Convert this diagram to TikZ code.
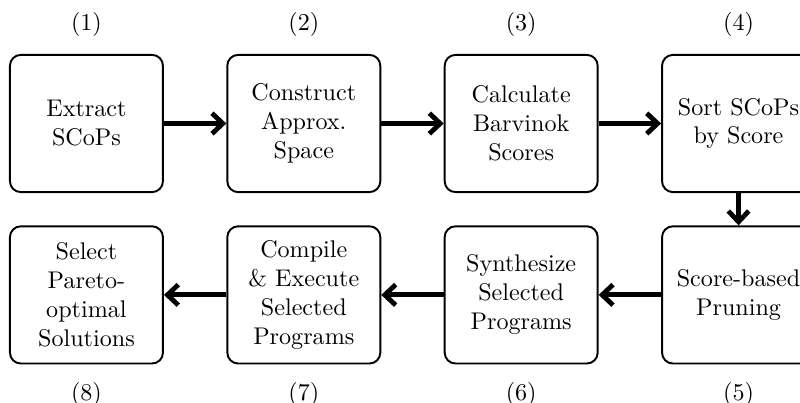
\documentclass[tikz,border=0pt]{standalone}
\usepackage{tikz}
\usetikzlibrary{arrows.meta,positioning}

\begin{document}
\begin{tikzpicture}[
  stage/.style={draw=black,thick,rounded corners=4.5pt,minimum width=2.23cm,minimum height=2cm,align=center,inner sep=2pt},
  num/.style={inner sep=0pt},
  flow/.style={-{Straight Barb[length=4.5pt,width=8.5pt]},line width=2pt}]
\useasboundingbox (0,0) rectangle (11.66,-5.86);
% top row, left to right
\node[stage] (extract) at (1.26,-1.80) {Extract\\SCoPs};
\node[stage,right=0.91cm of extract] (approx) {Construct\\Approx.\\Space};
\node[stage,right=0.91cm of approx] (barv) {Calculate\\Barvinok\\Scores};
\node[stage,right=0.91cm of barv] (sort) {Sort SCoPs\\by Score};
% bottom row, right to left
\node[stage,below=0.47cm of sort] (prune) {Score-based\\Pruning};
\node[stage,left=0.91cm of prune] (synth) {Synthesize\\Selected\\Programs};
\node[stage,left=0.91cm of synth] (exec) {Compile\\\& Execute\\Selected\\Programs};
\node[stage,left=0.91cm of exec] (pareto) {Select\\Pareto-\\optimal\\Solutions};
\foreach \b/\n in {extract/1,approx/2,barv/3,sort/4}
  \node[num,above=0.25cm of \b] (n\n) {(\n)};
\foreach \b/\n in {prune/5,synth/6,exec/7,pareto/8}
  \node[num,below=0.25cm of \b] (n\n) {(\n)};
\draw[flow] (extract) -- (approx);
\draw[flow] (approx) -- (barv);
\draw[flow] (barv) -- (sort);
\draw[flow] (sort) -- (prune);
\draw[flow] (prune) -- (synth);
\draw[flow] (synth) -- (exec);
\draw[flow] (exec) -- (pareto);
\end{tikzpicture}
\end{document}
